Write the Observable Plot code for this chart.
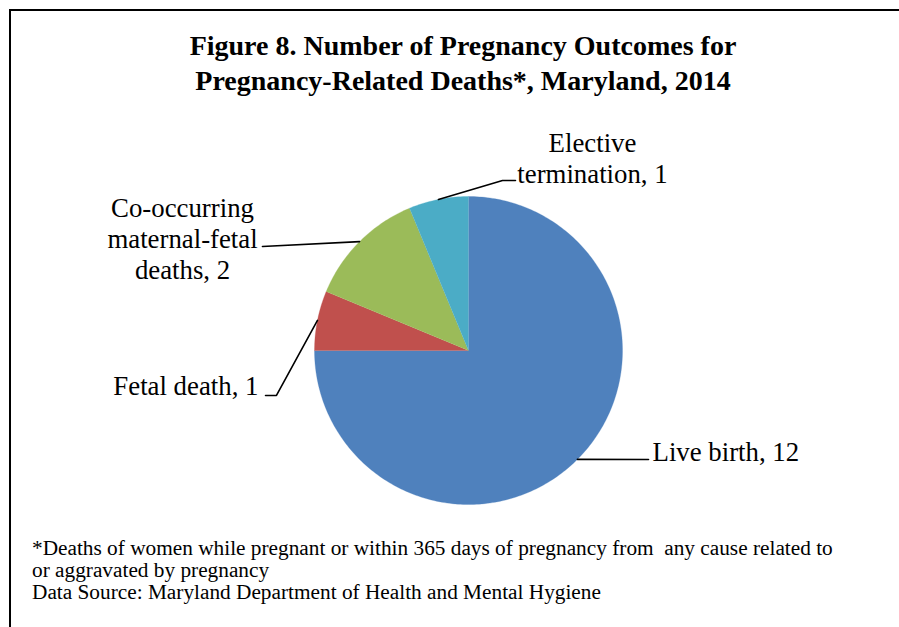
<!DOCTYPE html>
<html>
<head>
<meta charset="utf-8">
<script src="https://cdn.jsdelivr.net/npm/d3@7"></script>
<script src="https://cdn.jsdelivr.net/npm/@observablehq/plot@0.6"></script>
<style>
  html, body { margin: 0; padding: 0; background: #fff; }
  body { width: 899px; height: 627px; position: relative; overflow: hidden; font-family: "Liberation Serif", "Times New Roman", serif; color: #000; }
  #frame { position: absolute; left: 9px; top: 9px; width: 1000px; height: 700px; border-left: 2px solid #000; border-top: 2px solid #000; }
  #title { position: absolute; left: 0; top: 28px; width: 926px; text-align: center; font-weight: bold; font-size: 28px; line-height: 35px; }
  #chart { position: absolute; left: 0; top: 110px; }
  #note { position: absolute; left: 32px; top: 537px; font-size: 21.3px; line-height: 22px; white-space: pre; }
</style>
</head>
<body>
<div id="frame"></div>
<div id="title">Figure 8. Number of Pregnancy Outcomes for<br>Pregnancy-Related Deaths*, Maryland, 2014</div>
<div id="chart"></div>
<div id="note">*Deaths of women while pregnant or within 365 days of pregnancy from  any cause related to
or aggravated by pregnancy
Data Source: Maryland Department of Health and Mental Hygiene</div>
<script>
// ---- data ----
const categories = ["Live birth", "Fetal death", "Co-occurring maternal-fetal deaths", "Elective termination"];
const values = [12, 1, 2, 1];
const labelTexts = ["Live birth, 12", "Fetal death, 1", "Co-occurring\nmaternal-fetal\ndeaths, 2", "Elective\ntermination, 1"];
const colors = ["#4F81BD", "#C0504D", "#9BBB59", "#4BACC6"];

// ---- layout (unit-circle coordinates, radius = 1) ----
const labelPos = [
  {x: 1.195, y: -0.654, anchor: "start"},
  {x: -1.364, y: -0.227, anchor: "end"},
  {x: -1.857, y: 0.729, anchor: "middle"},
  {x: 0.805, y: 1.252, anchor: "middle"}
];
const leaderBends = [
  [[1.169, -0.708]],
  [[-1.247, -0.292], [-1.318, -0.292]],
  [[-1.338, 0.675]],
  [[0.221, 1.104], [0.305, 1.104]]
];

const W = 899, H = 410, R = 154, CX = 468, CY = 240;

const pie = d3.pie().sort(null).value(d => d.value);
const arcs = pie(categories.map((c, i) => ({name: c, value: values[i]})));

// polygon points for each slice (angle clockwise from 12 o'clock)
const slicePts = [];
arcs.forEach(a => {
  const n = Math.max(2, Math.ceil((a.endAngle - a.startAngle) / (Math.PI / 180)));
  slicePts.push({name: a.data.name, x: 0, y: 0});
  for (let k = 0; k <= n; k++) {
    const t = a.startAngle + (a.endAngle - a.startAngle) * k / n;
    slicePts.push({name: a.data.name, x: Math.sin(t), y: Math.cos(t)});
  }
});

const leaderPts = [];
arcs.forEach((a, i) => {
  const m = (a.startAngle + a.endAngle) / 2;
  leaderPts.push({name: a.data.name, x: Math.sin(m), y: Math.cos(m)});
  leaderBends[i].forEach(p => leaderPts.push({name: a.data.name, x: p[0], y: p[1]}));
});

const labels = arcs.map((a, i) => ({name: a.data.name, text: labelTexts[i], ...labelPos[i]}));

const chart = Plot.plot({
  width: W,
  height: H,
  margin: 0,
  style: {fontFamily: "'Liberation Serif', 'Times New Roman', serif", background: "transparent"},
  x: {domain: [-CX / R, (W - CX) / R], range: [0, W], axis: null},
  y: {domain: [-(H - CY) / R, CY / R], range: [H, 0], axis: null},
  color: {domain: categories, range: colors},
  marks: [
    Plot.line(slicePts, {x: "x", y: "y", z: "name", fill: "name", stroke: "name", strokeWidth: 0.3, curve: "linear"}),
    Plot.line(leaderPts, {x: "x", y: "y", z: "name", stroke: "#000", strokeWidth: 1.6, curve: "linear"}),
    ...["start", "end", "middle"].map(anc =>
      Plot.text(labels.filter(d => d.anchor === anc), {
        x: "x", y: "y", text: "text", textAnchor: anc,
        fontSize: 26.8, lineHeight: 1.16, fill: "#000"
      })
    )
  ]
});
document.getElementById("chart").appendChild(chart);
</script>
</body>
</html>
